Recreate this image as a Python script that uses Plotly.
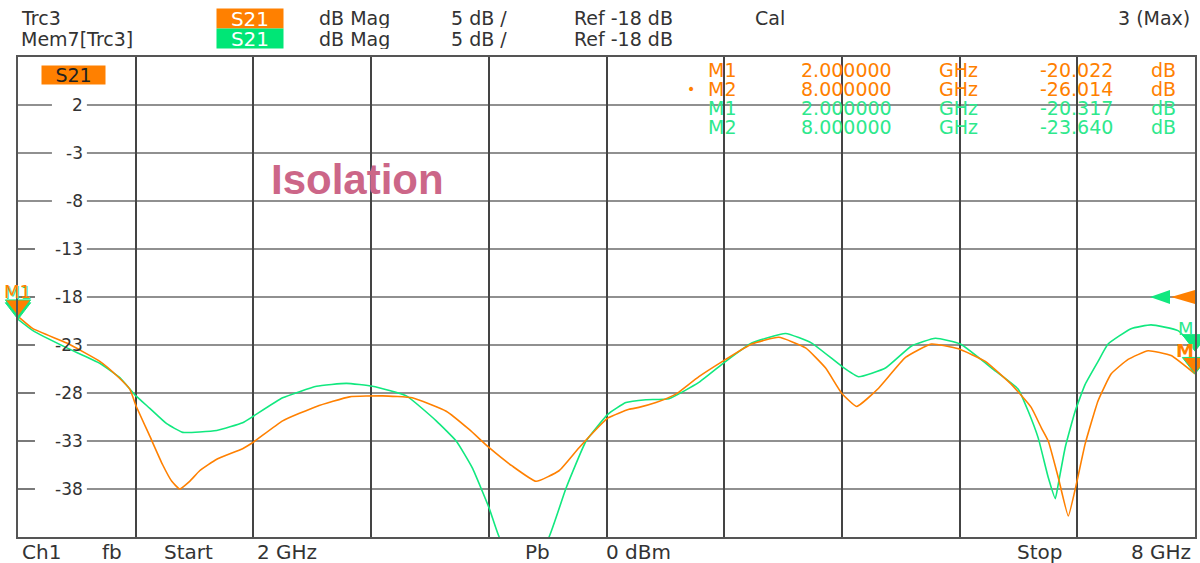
import plotly.graph_objects as go

# ---------------- data ----------------
# Trc3 (orange, live trace)
trc3_freq_ghz = [2.000, 2.076, 2.249, 2.417, 2.504, 2.570, 2.601, 2.672, 2.738, 2.784,
                 2.824, 2.875, 2.926, 3.013, 3.145, 3.201, 3.349, 3.522, 3.690, 3.858,
                 4.010, 4.183, 4.300, 4.402, 4.519, 4.641, 4.758, 4.860, 5.008, 5.115,
                 5.165, 5.252, 5.336, 5.369, 5.471, 5.608, 5.740, 5.878, 6.015, 6.117,
                 6.198, 6.275, 6.387, 6.524, 6.656, 6.794, 6.931, 7.064, 7.165, 7.216,
                 7.252, 7.303, 7.354, 7.394, 7.440, 7.506, 7.573, 7.659, 7.761, 7.878,
                 8.000]
trc3_db = [-20.02, -21.3, -22.8, -24.7, -26.2, -27.6, -29.3, -32.5, -35.5, -37.2,
           -38.0, -37.2, -36.1, -34.9, -33.8, -33.1, -30.9, -29.4, -28.4, -28.3,
           -28.5, -29.9, -31.8, -33.7, -35.6, -37.2, -36.1, -33.7, -30.6, -29.7,
           -29.5, -29.0, -28.3, -27.9, -26.3, -24.5, -22.9, -22.2, -23.3, -25.4,
           -28.0, -29.4, -27.5, -24.3, -22.9, -23.4, -24.7, -27.1, -29.5, -31.6,
           -33.0, -36.8, -40.8, -37.6, -33.3, -28.8, -26.0, -24.5, -23.6, -24.1,
           -26.01]

# Mem7[Trc3] (green, memory trace)
mem7_freq_ghz = [2.000, 2.076, 2.249, 2.417, 2.519, 2.601, 2.672, 2.758, 2.840, 3.013,
                 3.145, 3.201, 3.349, 3.522, 3.674, 3.807, 3.980, 4.132, 4.234, 4.316,
                 4.402, 4.453, 4.580, 4.707, 4.794, 4.896, 5.008, 5.099, 5.201, 5.318,
                 5.471, 5.608, 5.740, 5.913, 6.046, 6.198, 6.285, 6.422, 6.555, 6.677,
                 6.804, 6.982, 7.099, 7.150, 7.201, 7.252, 7.288, 7.303, 7.338, 7.389,
                 7.440, 7.506, 7.557, 7.674, 7.776, 7.913, 8.000]
mem7_db = [-20.32, -21.5, -23.3, -24.9, -26.4, -28.3, -29.6, -31.2, -32.1, -31.9,
           -31.1, -30.4, -28.5, -27.3, -27.0, -27.3, -28.3, -30.9, -33.0, -35.8,
           -40.0, -43.0, -47.0, -43.0, -37.9, -33.0, -30.2, -29.0, -28.7, -28.6,
           -26.9, -24.7, -22.8, -21.8, -22.8, -25.2, -26.3, -25.4, -23.1, -22.3,
           -22.9, -25.7, -27.6, -29.9, -32.7, -36.8, -39.0, -37.5, -33.7, -29.9,
           -27.1, -24.7, -22.9, -21.3, -20.9, -21.5, -23.3]

y_tick_values = [2, -3, -8, -13, -18, -23, -28, -33, -38]

marker_labels = ["M1", "M2", "M1", "M2"]
marker_freq_text = ["2.000000", "8.000000", "2.000000", "8.000000"]
marker_value_text = ["-20.022", "-26.014", "-20.317", "-23.640"]
marker_owner = ["trc", "trc", "mem", "mem"]

trc3_markers_ghz = [2.0, 8.0]
trc3_markers_db = [-20.022, -26.014]
mem7_markers_ghz = [2.0, 8.0]
mem7_markers_db = [-20.317, -23.640]
ref_level_db = -18

# ---------------- style ----------------
ORANGE = "#ff8000"
GREEN = "#11e87f"
GREEN_TXT = "#2ee88c"
TXT = "#333333"
FONT = "DejaVu Sans"

W, H = 1200, 563
L, R, T, B = 18, 3, 57, 26
PW, PH = W - L - R, H - T - B
Y0, Y1 = -43, 7
PX_PER_DB = PH / (Y1 - Y0)


def px(x):
    return (x - L) / PW


def py(y):
    return (H - B - y) / PH


fig = go.Figure()

fig.add_trace(go.Scatter(x=mem7_freq_ghz, y=mem7_db, mode="lines",
                         line=dict(color=GREEN, width=1.6, shape="spline", smoothing=0.4),
                         hoverinfo="skip", showlegend=False))
fig.add_trace(go.Scatter(x=trc3_freq_ghz, y=trc3_db, mode="lines",
                         line=dict(color=ORANGE, width=1.6, shape="spline", smoothing=0.4),
                         hoverinfo="skip", showlegend=False))

# marker triangles (tip on the trace point)
MS = 22
off = (MS / 2) / PX_PER_DB
fig.add_trace(go.Scatter(x=mem7_markers_ghz, y=[v + off for v in mem7_markers_db], mode="markers",
                         marker=dict(symbol="triangle-down", size=MS, color=GREEN,
                                     line=dict(color=GREEN, width=1)),
                         cliponaxis=False, hoverinfo="skip", showlegend=False))
fig.add_trace(go.Scatter(x=trc3_markers_ghz, y=[v + off for v in trc3_markers_db], mode="markers",
                         marker=dict(symbol="triangle-down", size=MS, color=ORANGE,
                                     line=dict(color=GREEN, width=1)),
                         cliponaxis=False, hoverinfo="skip", showlegend=False))

shapes = []
# horizontal grid lines with a gap where the scale label sits
for v in y_tick_values:
    gap_start = 35 if len(str(abs(v))) > 1 else 52
    for xa, xb in ((L, gap_start), (87, W - R)):
        shapes.append(dict(type="line", xref="paper", yref="y", x0=px(xa), x1=px(xb), y0=v, y1=v,
                           line=dict(color="#222222", width=1.2), layer="below"))

# reference level arrows at right edge
shapes.append(dict(type="path", xref="x", yref="y", xsizemode="pixel", ysizemode="pixel",
                   xanchor=8.0, yanchor=ref_level_db,
                   path="M -24,0 L 0,7 L 0,-7 Z", fillcolor=ORANGE, line=dict(width=0)))
shapes.append(dict(type="path", xref="x", yref="y", xsizemode="pixel", ysizemode="pixel",
                   xanchor=8.0, yanchor=ref_level_db,
                   path="M -45,0 L -25,7 L -25,-7 Z", fillcolor=GREEN, line=dict(width=0)))

ann = []


def text(x, y, s, size=20, color=TXT, anchor="left", **kw):
    ann.append(dict(x=px(x), y=py(y), xref="paper", yref="paper", text=s, showarrow=False,
                    xanchor=anchor, yanchor="middle",
                    font=dict(family=kw.pop("family", FONT), size=size, color=color,
                              weight=kw.pop("weight", "normal")), **kw))


# header
HDR = dict(size=19, height=21, borderpad=0)
text(20, 18, "Trc3", **HDR)
text(20, 38, "Mem7[Trc3]", **HDR)
text(250, 18.5, "S21", color="white", anchor="center", bgcolor=ORANGE, width=64, height=17, borderpad=1)
text(250, 38.5, "S21", color="white", anchor="center", bgcolor="#00e676", width=64, height=17, borderpad=1)
for yy in (18, 38):
    text(355, yy, "dB Mag", anchor="center", **HDR)
    text(480, yy, "5 dB /", anchor="center", **HDR)
    text(625, yy, "Ref -18 dB", anchor="center", **HDR)
text(771, 18, "Cal", anchor="center", **HDR)
text(1193, 18, "3 (Max)", anchor="right", **HDR)

# footer
text(20, 552, "Ch1")
text(112, 552, "fb", anchor="center")
text(189, 552, "Start", anchor="center")
text(287, 552, "2 GHz", anchor="center")
text(538, 552, "Pb", anchor="center")
text(640, 552, "0 dBm", anchor="center")
text(1041, 552, "Stop", anchor="center")
text(1195, 552, "8 GHz", anchor="right")

# trace label box in plot
text(73.5, 75, "S21", size=19, color="#222222", anchor="center", bgcolor=ORANGE,
     width=61, height=16, borderpad=1)

# y scale labels
for v in y_tick_values:
    yy = (H - B) - (v - Y0) * PX_PER_DB
    text(85, yy, "%d" % v, size=17, anchor="right")

# marker table
TB = dict(size=19, height=18, borderpad=0)
for i in range(len(marker_labels)):
    yy = 70 + 19 * i
    c = ORANGE if marker_owner[i] == "trc" else GREEN_TXT
    text(723, yy, marker_labels[i], color=c, anchor="center", **TB)
    text(848, yy, marker_freq_text[i], color=c, anchor="center", **TB)
    text(960, yy, "GHz", color=c, anchor="center", **TB)
    text(1078, yy, marker_value_text[i], color=c, anchor="center", **TB)
    text(1165, yy, "dB", color=c, anchor="center", **TB)
text(692, 89, "•", color=ORANGE, anchor="center", size=14)

# marker labels at the edges
text(18, 292, "M1", color=GREEN_TXT, anchor="center", size=18)
text(17, 291, "M1", color=ORANGE, anchor="center", size=18)
text(1198, 328, "M", color=GREEN_TXT, anchor="right", size=18)
text(1198, 350, "M", color=ORANGE, anchor="right", size=18, weight="bold")

# Isolation label
text(358, 179, "Isolation", size=42, color="#cc6688", anchor="center",
     family="Liberation Sans", weight="bold")

fig.update_layout(
    width=W, height=H, autosize=False,
    margin=dict(l=L, r=R, t=T, b=B, pad=0),
    paper_bgcolor="white", plot_bgcolor="white",
    shapes=shapes, annotations=ann,
    xaxis=dict(range=[2, 8], tick0=2, dtick=0.6, showgrid=True, gridcolor="#444444", gridwidth=2,
               showticklabels=False, ticks="", zeroline=False,
               showline=True, mirror=True, linecolor="#555555", linewidth=2),
    yaxis=dict(range=[Y0, Y1], showgrid=False,
               showticklabels=False, ticks="", zeroline=False,
               showline=True, mirror=True, linecolor="#555555", linewidth=2),
)

fig.write_html("out.html", config={"displayModeBar": False},
               post_script="document.body.style.margin='0';document.body.style.overflow='hidden';")
